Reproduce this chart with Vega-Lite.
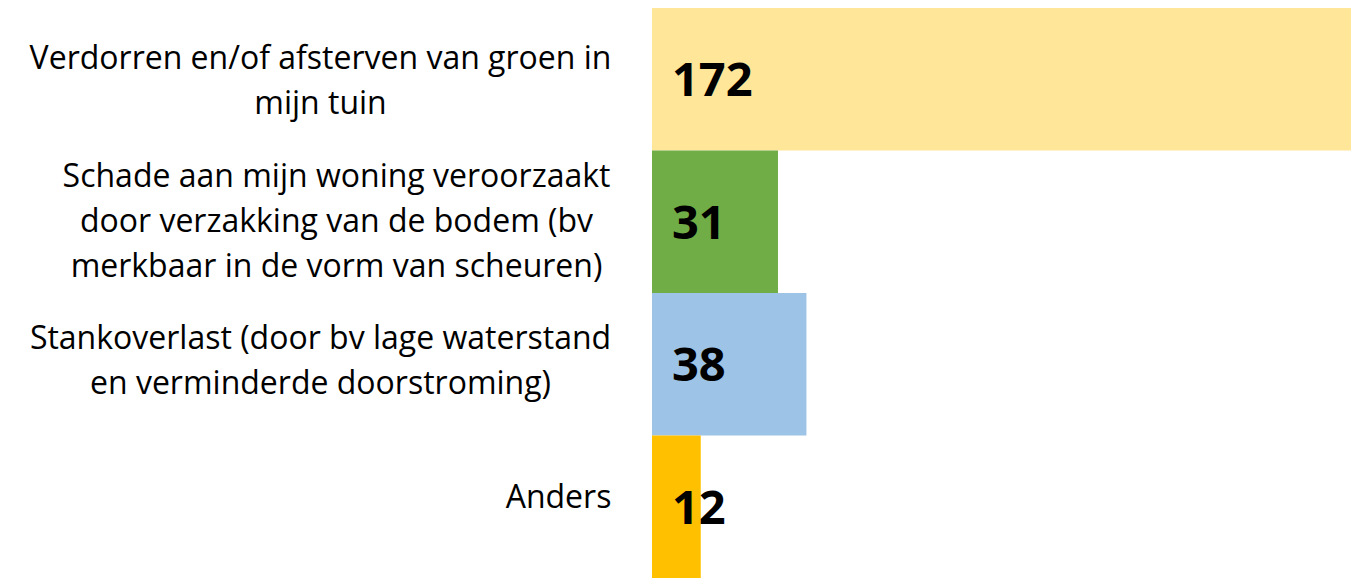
{
  "$schema": "https://vega.github.io/schema/vega-lite/v6.json",
  "autosize": "none",
  "padding": {"left": 652, "top": 8, "right": 9, "bottom": 0},
  "width": 699,
  "height": 570,
  "background": "white",
  "config": {"view": {"stroke": null}},
  "data": {
    "values": [
      {"label": "Verdorren en/of afsterven van groen in|mijn tuin", "count": 172},
      {"label": "Schade aan mijn woning veroorzaakt|door verzakking van de bodem (bv|merkbaar in de vorm van scheuren)", "count": 31},
      {"label": "Stankoverlast (door bv lage waterstand|en verminderde doorstroming)", "count": 38},
      {"label": "Anders", "count": 12}
    ]
  },
  "encoding": {
    "y": {
      "field": "label",
      "type": "nominal",
      "sort": null,
      "scale": {"paddingInner": 0, "paddingOuter": 0},
      "axis": {
        "title": null,
        "domain": false,
        "ticks": false,
        "labelExpr": "split(datum.label, '|')",
        "labelFont": "Open Sans",
        "labelFontSize": 32,
        "labelColor": "#000000",
        "labelLineHeight": 45,
        "labelLimit": 700,
        "labelAlign": "center",
        "labelBaseline": "middle",
        "labelOffset": {
          "condition": [
            {"test": "datum.value == 'Anders'", "value": -9},
            {"test": "indexof(datum.value, 'Schade') == 0", "value": -45},
            {"test": "indexof(datum.value, 'Stank') == 0", "value": -25}
          ],
          "value": -20
        },
        "labelPadding": {
          "condition": [
            {"test": "datum.value == 'Anders'", "value": 94},
            {"test": "indexof(datum.value, 'Schade') == 0", "value": 316},
            {"test": "indexof(datum.value, 'Stank') == 0", "value": 332}
          ],
          "value": 332
        }
      }
    }
  },
  "layer": [
    {
      "mark": {"type": "bar"},
      "encoding": {
        "x": {"field": "count", "type": "quantitative", "scale": {"domain": [0, 172], "nice": false}, "axis": null},
        "color": {
          "field": "label",
          "type": "nominal",
          "sort": null,
          "scale": {"range": ["#FFE699", "#70AD47", "#9DC3E6", "#FFC000"]},
          "legend": null
        }
      }
    },
    {
      "mark": {"type": "text", "align": "left", "baseline": "middle", "dx": 20, "dy": 3, "font": "Open Sans", "fontWeight": "bold", "fontSize": 47, "color": "#000000"},
      "encoding": {
        "x": {"datum": 0, "type": "quantitative"},
        "text": {"field": "count", "type": "quantitative"}
      }
    }
  ]
}
